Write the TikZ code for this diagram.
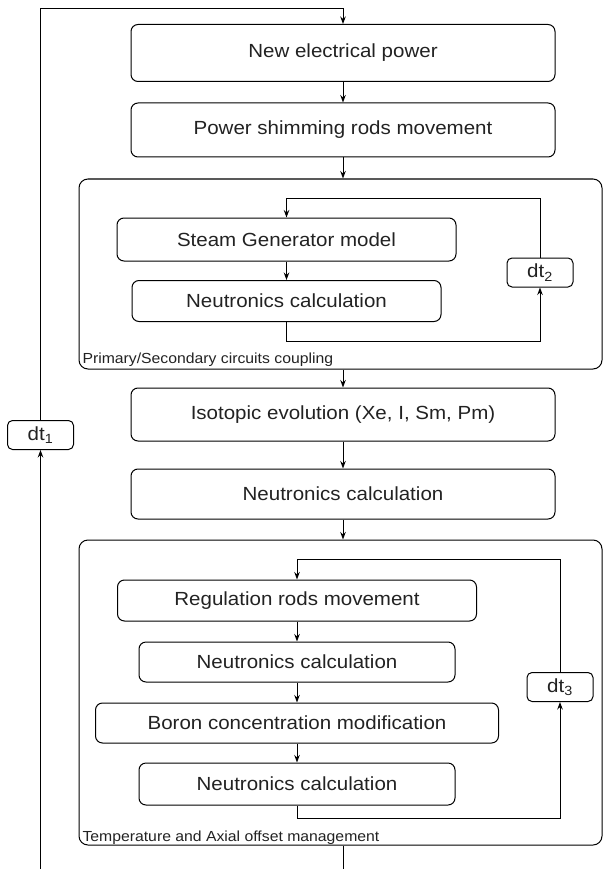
\documentclass[tikz,border=0pt]{standalone}
\usepackage{fontspec}
\setmainfont{Liberation Sans}[FakeStretch=1.08]
\usetikzlibrary{arrows.meta}
\definecolor{txt}{HTML}{222222}
\begin{document}
\begin{tikzpicture}[x=1pt,y=-1pt,
  line width=1pt,
  box/.style 2 args={draw, rounded corners=7pt, minimum width=#1, minimum height=#2, inner sep=0pt,
     text=txt, font=\fontsize{19}{22}\selectfont},
  group/.style 2 args={draw, rounded corners=9pt, minimum width=#1, minimum height=#2, inner sep=0pt},
  tbox/.style={draw, rounded corners=5pt, minimum width=66pt, minimum height=29pt, inner sep=0pt,
     text=txt, font=\fontsize{19}{22}\selectfont},
  glabel/.style={anchor=base west, inner sep=0pt, text=txt, font=\fontsize{14.6}{16}\selectfont},
  arr/.style={-{Stealth[length=7.5pt,width=5.5pt]}}
]
\useasboundingbox (0,0) rectangle (603,869);

% main column
\node[box={424}{57}] (b1) at (343,53) {New electrical power};
\node[box={424}{54}] (b2) at (343,130) {Power shimming rods movement};
\node[group={523}{190}] (gA) at (340.5,274) {};
\node[box={424}{53}] (iso) at (343,414.5) {Isotopic evolution (Xe, I, Sm, Pm)};
\node[box={424}{50}] (nc) at (343,494) {Neutronics calculation};
\node[group={523}{305}] (gB) at (340.5,692.5) {};

% group A content
\node[box={339}{43}] (sg) at (286.5,239.5) {Steam Generator model};
\node[box={309}{41}] (n1) at (286.5,301) {Neutronics calculation};
\node[tbox] (dt2) at (540,272.5) {dt\textsubscript{2}};
\node[glabel] (lA) at (82,363) {Primary/Secondary circuits coupling};
\coordinate (a1) at (286.5,198);
\coordinate (a2) at (286.5,341);

% group B content
\node[box={359}{41}] (reg) at (297,600.5) {Regulation rods movement};
\node[box={316}{40}] (nc2) at (297,662) {Neutronics calculation};
\node[box={403}{40}] (bor) at (297,723) {Boron concentration modification};
\node[box={316}{42}] (nc3) at (297,784) {Neutronics calculation};
\node[tbox] (dt3) at (560,687) {dt\textsubscript{3}};
\node[glabel] (lB) at (82,841) {Temperature and Axial offset management};
\coordinate (c1) at (297,559);
\coordinate (c2) at (297,818);

% outer loop
\node[tbox] (dt1) at (40.5,435) {dt\textsubscript{1}};
\coordinate (t1) at (40.5,9);
\coordinate (t2) at (343,9);
\coordinate (bl) at (40.5,869);
\coordinate (bm) at (343,869);

% connectors main
\draw[arr] (dt1.north) -- (t1) -- (t2) -- (b1.north);
\draw[arr] (bl) -- (dt1.south);
\draw[arr] (b1.south) -- (b2.north);
\draw[arr] (b2.south) -- (b2.south |- gA.north);
\draw[arr] (b2.south |- gA.south) -- (iso.north);
\draw[arr] (iso.south) -- (nc.north);
\draw[arr] (nc.south) -- (nc.south |- gB.north);
\draw (nc.south |- gB.south) -- (bm);

% loop A
\draw[arr] (dt2.north) -- (dt2.north |- a1) -- (a1) -- (sg.north);
\draw[arr] (sg.south) -- (n1.north);
\draw[arr] (n1.south) -- (a2) -| (dt2.south);

% loop B
\draw[arr] (dt3.north) -- (dt3.north |- c1) -- (c1) -- (reg.north);
\draw[arr] (reg.south) -- (nc2.north);
\draw[arr] (nc2.south) -- (bor.north);
\draw[arr] (bor.south) -- (nc3.north);
\draw[arr] (nc3.south) -- (c2) -| (dt3.south);
\end{tikzpicture}
\end{document}
